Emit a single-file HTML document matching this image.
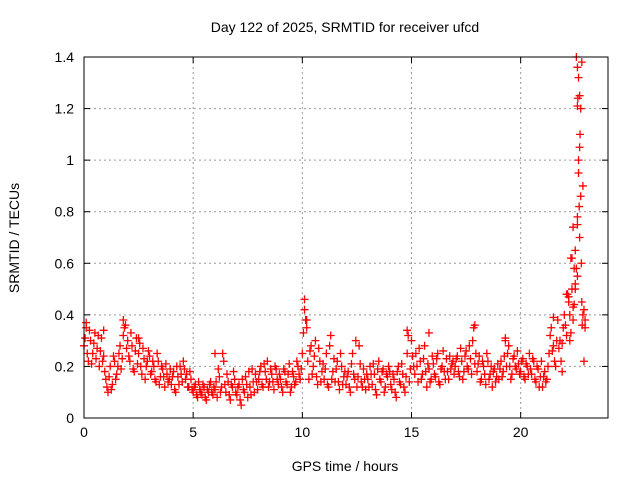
<!DOCTYPE html>
<html><head><meta charset="utf-8"><style>
html,body{margin:0;padding:0;background:#fff;}
svg{display:block;font-family:"Liberation Sans",sans-serif;}
</style></head><body>
<svg id="chart" width="640" height="480" viewBox="0 0 640 480">
<text x="345" y="32" font-size="14" text-anchor="middle">Day 122 of 2025, SRMTID for receiver ufcd</text>
<text x="345" y="471" font-size="14" text-anchor="middle">GPS time / hours</text>
<text transform="translate(19,238) rotate(-90)" font-size="14" text-anchor="middle">SRMTID / TECUs</text>
<g id="grid"></g>
<g id="ticks"></g>
<g id="pts"></g>
<rect x="84" y="57" width="524" height="361" fill="none" stroke="#000" stroke-width="1"/>
</svg>
<script>
const xTicks=[0,5,10,15,20];
const yTicks=[0,0.2,0.4,0.6,0.8,1,1.2,1.4];
const yTickLabels=["0","0.2","0.4","0.6","0.8","1","1.2","1.4"];
const startHour=0, stepHour=0.1, offsetHour2=0.05;
const values=[
0.28,0.35,0.22,0.30,0.25,0.33,0.27,0.20,0.31,0.24,
0.15,0.10,0.20,0.13,0.22,0.17,0.25,0.19,0.32,0.36,
0.30,0.22,0.28,0.18,0.31,0.25,0.20,0.27,0.15,0.22,
0.24,0.18,0.20,0.14,0.22,0.16,0.19,0.12,0.17,0.15,
0.13,0.18,0.10,0.16,0.20,0.14,0.19,0.17,0.12,0.15,
0.10,0.13,0.08,0.11,0.09,0.12,0.07,0.10,0.14,0.09,
0.11,0.08,0.16,0.12,0.22,0.10,0.14,0.07,0.12,0.15,
0.09,0.13,0.05,0.11,0.16,0.08,0.12,0.19,0.10,0.14,
0.15,0.20,0.12,0.18,0.22,0.14,0.17,0.11,0.19,0.13,
0.15,0.10,0.18,0.13,0.21,0.12,0.16,0.14,0.20,0.15,
0.25,0.42,0.35,0.15,0.28,0.20,0.30,0.13,0.22,0.18,
0.15,0.25,0.12,0.32,0.18,0.14,0.22,0.11,0.20,0.16,
0.13,0.18,0.10,0.25,0.15,0.12,0.28,0.14,0.19,0.11,
0.15,0.20,0.13,0.17,0.09,0.22,0.14,0.19,0.12,0.16,
0.18,0.11,0.15,0.08,0.20,0.13,0.17,0.10,0.25,0.14,
0.30,0.20,0.25,0.14,0.22,0.17,0.28,0.12,0.19,0.15,
0.21,0.16,0.25,0.13,0.20,0.18,0.23,0.15,0.19,0.22,
0.20,0.24,0.16,0.22,0.18,0.26,0.19,0.23,0.30,0.21,
0.18,0.24,0.15,0.20,0.13,0.22,0.17,0.12,0.19,0.16,
0.15,0.22,0.18,0.30,0.25,0.20,0.17,0.24,0.19,0.21,
0.18,0.23,0.15,0.20,0.25,0.17,0.22,0.14,0.19,0.16,
0.12,0.18,0.15,0.25,0.35,0.28,0.20,0.38,0.30,0.18,
0.40,0.32,0.45,0.62,0.38,0.50,0.75,1.25,1.38,0.42];
const values2=[
0.31,0.25,0.34,0.21,0.29,0.23,0.32,0.26,0.22,0.18,
0.12,0.16,0.11,0.24,0.15,0.20,0.28,0.23,0.35,0.27,
0.24,0.33,0.19,0.26,0.21,0.29,0.17,0.23,0.20,0.26,
0.17,0.22,0.15,0.25,0.13,0.20,0.16,0.21,0.14,0.19,
0.16,0.11,0.20,0.13,0.17,0.22,0.15,0.12,0.18,0.11,
0.12,0.09,0.14,0.10,0.13,0.08,0.11,0.13,0.10,0.12,
0.14,0.19,0.10,0.25,0.13,0.17,0.09,0.13,0.18,0.10,
0.12,0.07,0.15,0.10,0.13,0.18,0.09,0.14,0.17,0.11,
0.18,0.13,0.21,0.15,0.12,0.19,0.14,0.20,0.15,0.17,
0.12,0.19,0.14,0.17,0.10,0.18,0.13,0.22,0.17,0.19,
0.33,0.38,0.22,0.26,0.17,0.24,0.16,0.27,0.14,0.21,
0.19,0.13,0.28,0.15,0.23,0.19,0.14,0.25,0.13,0.18,
0.16,0.12,0.21,0.17,0.30,0.16,0.21,0.12,0.15,0.17,
0.12,0.17,0.21,0.11,0.19,0.15,0.18,0.10,0.17,0.20,
0.13,0.17,0.10,0.18,0.14,0.21,0.12,0.16,0.32,0.19,
0.24,0.17,0.20,0.27,0.15,0.23,0.18,0.21,0.14,0.24,
0.17,0.23,0.14,0.19,0.26,0.15,0.18,0.24,0.21,0.17,
0.23,0.18,0.27,0.15,0.24,0.20,0.28,0.17,0.35,0.25,
0.21,0.14,0.22,0.17,0.25,0.15,0.20,0.18,0.14,0.21,
0.19,0.16,0.24,0.20,0.28,0.15,0.23,0.20,0.26,0.17,
0.22,0.16,0.21,0.17,0.19,0.23,0.15,0.20,0.12,0.22,
0.16,0.14,0.20,0.32,0.26,0.22,0.30,0.27,0.22,0.35,
0.36,0.48,0.30,0.50,0.44,0.58,1.00,1.20,0.90,0.35];
const extraTimes=[22.6,22.65,22.6,22.7,22.72,22.65,22.75,22.6,22.7,22.5,22.4,22.45,22.8,22.9,22.6,22.3,22.2,10.1,10.2,1.8,14.8,17.9,0.1,2.5,6.0,15.8,19.3,21.5,21.9,22.1,22.85,0.9,22.55,22.62,22.68,22.78,22.82,22.4,22.5,22.95,22.35,22.25];
const extraValues=[1.36,1.32,1.21,1.05,1.10,0.95,0.86,0.78,0.70,0.65,0.74,0.58,0.45,0.22,0.55,0.33,0.47,0.46,0.38,0.38,0.34,0.36,0.37,0.31,0.25,0.33,0.31,0.39,0.29,0.48,0.40,0.34,1.40,1.24,0.82,0.60,0.36,0.43,0.52,0.38,0.62,0.40];
const X=h=>84+h*(524/24);
const Y=v=>418-v*(361/1.4);
const ns="http://www.w3.org/2000/svg";
const grid=document.getElementById('grid'),ticks=document.getElementById('ticks'),pts=document.getElementById('pts');
function mk(tag,at,parent){const e=document.createElementNS(ns,tag);for(const k in at)e.setAttribute(k,at[k]);parent.appendChild(e);return e;}
xTicks.forEach(t=>{
 const x=X(t);
 if(t>0){const g=mk('line',{x1:x,x2:x,y1:57,y2:418,stroke:'#999','stroke-dasharray':'2,3'},grid);
 
 }
 mk('line',{x1:x,x2:x,y1:418,y2:412,stroke:'#000'},ticks);
 mk('line',{x1:x,x2:x,y1:57,y2:63,stroke:'#000'},ticks);
 const l=mk('text',{x:x,y:437,'font-size':14,'text-anchor':'middle'},ticks);l.textContent=t;
 
 
});
yTicks.forEach((t,i)=>{
 const y=Y(t);
 if(i>0&&i<yTicks.length-1){const g=mk('line',{x1:84,x2:608,y1:y,y2:y,stroke:'#999','stroke-dasharray':'2,3'},grid);
 
 }
 mk('line',{x1:84,x2:90,y1:y,y2:y,stroke:'#000'},ticks);
 mk('line',{x1:602,x2:608,y1:y,y2:y,stroke:'#000'},ticks);
 const l=mk('text',{x:74,y:y+5,'font-size':14,'text-anchor':'end'},ticks);l.textContent=yTickLabels[i];
 
 
});
function plus(h,v){
 const x=X(h),y=Y(v);
 const p=mk('path',{d:`M${x-4},${y}h8M${x},${y-4}v8`,stroke:'#f00','stroke-width':1.3,fill:'none'},pts);
 
 
}
values.forEach((v,i)=>plus(startHour+i*stepHour,v));
values2.forEach((v,i)=>plus(startHour+offsetHour2+i*stepHour,v));
extraTimes.forEach((t,i)=>plus(t,extraValues[i]));
</script>
</body></html>
